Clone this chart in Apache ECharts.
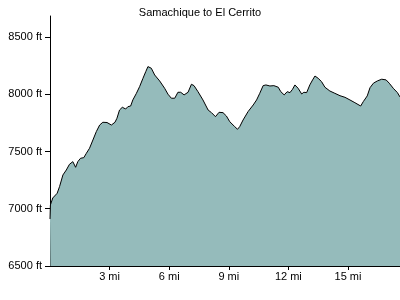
<!DOCTYPE html>
<html><head><meta charset="utf-8">
<script src="https://cdn.jsdelivr.net/npm/echarts@6/dist/echarts.min.js"></script>
<style>html,body{margin:0;padding:0;background:#fff}#c{width:400px;height:300px}</style>
</head><body><div id="c"></div>
<script>
const miles = [0,0.02,0.14,0.36,0.48,0.65,0.82,0.98,1.15,1.29,1.40,1.54,1.70,1.83,1.99,2.16,2.33,2.50,2.66,2.87,3.09,3.27,3.37,3.50,3.64,3.81,3.92,4.06,4.17,4.35,4.51,4.68,4.82,4.93,5.10,5.27,5.52,5.77,5.94,6.11,6.28,6.44,6.58,6.75,6.95,7.12,7.25,7.45,7.70,7.96,8.13,8.33,8.51,8.71,8.88,9.05,9.30,9.44,9.55,9.72,9.97,10.23,10.40,10.56,10.73,10.87,11.07,11.27,11.49,11.62,11.79,11.94,12.08,12.21,12.33,12.49,12.67,12.78,12.92,13.08,13.22,13.34,13.50,13.67,13.84,14.09,14.34,14.60,14.85,15.10,15.35,15.64,15.77,15.97,16.11,16.28,16.48,16.70,16.92,17.08,17.28,17.49,17.62];
const elevation = [6910,7033,7094,7135,7193,7295,7338,7388,7411,7362,7411,7441,7446,7484,7528,7600,7673,7731,7755,7753,7731,7755,7790,7862,7886,7871,7891,7897,7950,8008,8066,8139,8197,8241,8227,8168,8116,8052,8000,7965,7965,8017,8017,7994,8017,8087,8075,8022,7950,7862,7839,7804,7842,7839,7810,7760,7717,7694,7717,7775,7848,7906,7950,8008,8075,8081,8072,8075,8061,8022,7994,8022,8014,8043,8081,8052,8002,8017,8014,8081,8125,8159,8139,8110,8061,8028,8008,7987,7973,7950,7926,7897,7935,7985,8057,8096,8116,8131,8125,8096,8052,8014,7976];
const xTicks = [3,6,9,12,15];
const yTicks = [6500,7000,7500,8000,8500];
const titleText = 'Samachique to El Cerrito';

const chart = echarts.init(document.getElementById('c'), null, {renderer:'canvas'});
const font = 'Liberation Sans, Arial, sans-serif';
chart.setOption({
  animation:false,
  title:{text:titleText,left:'center',top:2,textStyle:{fontFamily:font,fontSize:11,fontWeight:'normal',color:'#000'}},
  grid:{left:50,right:0,top:16,bottom:34,containLabel:false},
  xAxis:{type:'value',min:0,max:17.62,
    axisLine:{show:true,onZero:false,lineStyle:{color:'#000',width:1}},
    axisTick:{show:true,length:4,lineStyle:{color:'#000'},customValues:xTicks},
    axisLabel:{color:'#000',fontFamily:font,fontSize:11,margin:5,customValues:xTicks,formatter:v=>v+' mi'},
    splitLine:{show:false}},
  yAxis:{type:'value',min:6500,max:8683,
    axisLine:{show:true,onZero:false,lineStyle:{color:'#000',width:1}},
    axisTick:{show:true,length:5,lineStyle:{color:'#000'},customValues:yTicks},
    axisLabel:{color:'#000',fontFamily:font,fontSize:11,margin:8,customValues:yTicks,formatter:v=>v+' ft'},
    splitLine:{show:false}},
  series:[{type:'line',data:miles.map((m,i)=>[m,elevation[i]]),showSymbol:false,symbol:'none',
    lineStyle:{color:'#000',width:1},areaStyle:{color:'#95bbbb',opacity:1,origin:'start'},z:1}]
});
</script></body></html>
